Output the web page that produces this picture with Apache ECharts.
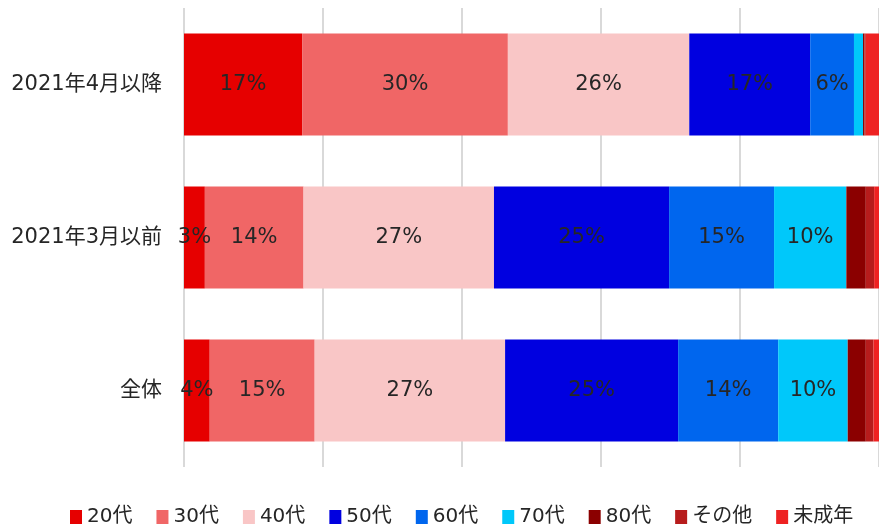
<!DOCTYPE html>
<html>
<head>
<meta charset="utf-8">
<script src="https://cdn.jsdelivr.net/npm/echarts@6/dist/echarts.min.js"></script>
<style>html,body{margin:0;padding:0;background:#fff}#c{width:879px;height:528px}</style>
</head>
<body>
<div id="c"></div>
<script>
// bottom to top
var categories = ['全体', '2021年3月以前', '2021年4月以降'];
var seriesNames = ['20代', '30代', '40代', '50代', '60代', '70代', '80代', 'その他', '未成年'];
var v20 = [3.7, 3.0, 17.0];
var v30 = [15.1, 14.2, 29.6];
var v40 = [27.4, 27.4, 26.1];
var v50 = [24.9, 25.2, 17.4];
var v60 = [14.4, 15.1, 6.3];
var v70 = [10.0, 10.4, 1.3];
var v80 = [2.6, 2.8, 0.2];
var vOther = [1.1, 1.2, 0.2];
var vMinor = [0.8, 0.7, 1.9];
var xTicks = [0, 20, 40, 60, 80, 100];

var values = [v20, v30, v40, v50, v60, v70, v80, vOther, vMinor];
var colors = ['#e60000', '#f06666', '#f9c6c6', '#0000e0', '#0066ee', '#00c8fa', '#8b0000', '#b71c1c', '#ee2222'];
var FONT = '"DejaVu Sans","Noto Sans CJK JP",sans-serif';

var chart = echarts.init(document.getElementById('c'));
chart.setOption({
  animation: false,
  textStyle: {fontFamily: FONT},
  grid: {left: 184, right: 0, top: 8, bottom: 61},
  xAxis: {
    type: 'value', min: xTicks[0], max: xTicks[xTicks.length - 1], interval: 20,
    axisLabel: {show: false}, axisLine: {show: false}, axisTick: {show: false},
    splitLine: {lineStyle: {color: '#d9d9d9', width: 2}}
  },
  yAxis: {
    type: 'category', data: categories,
    axisLine: {show: false}, axisTick: {show: false},
    axisLabel: {color: '#262626', fontSize: 21, margin: 22, fontFamily: FONT}
  },
  legend: {
    top: 507, left: 70, padding: 0, icon: 'rect', itemWidth: 12, itemHeight: 14, itemGap: 24,
    textStyle: {color: '#262626', fontSize: 20, lineHeight: 20, fontFamily: FONT},
    data: seriesNames
  },
  series: seriesNames.map(function (n, i) {
    return {
      name: n, type: 'bar', stack: 'all', barWidth: 102,
      itemStyle: {color: colors[i]},
      label: {
        show: true, position: 'inside', color: '#262626', fontSize: 21, fontFamily: FONT,
        formatter: function (p) { return p.value >= 3 ? Math.round(p.value) + '%' : ''; }
      },
      data: values[i]
    };
  })
});
</script>
</body>
</html>
